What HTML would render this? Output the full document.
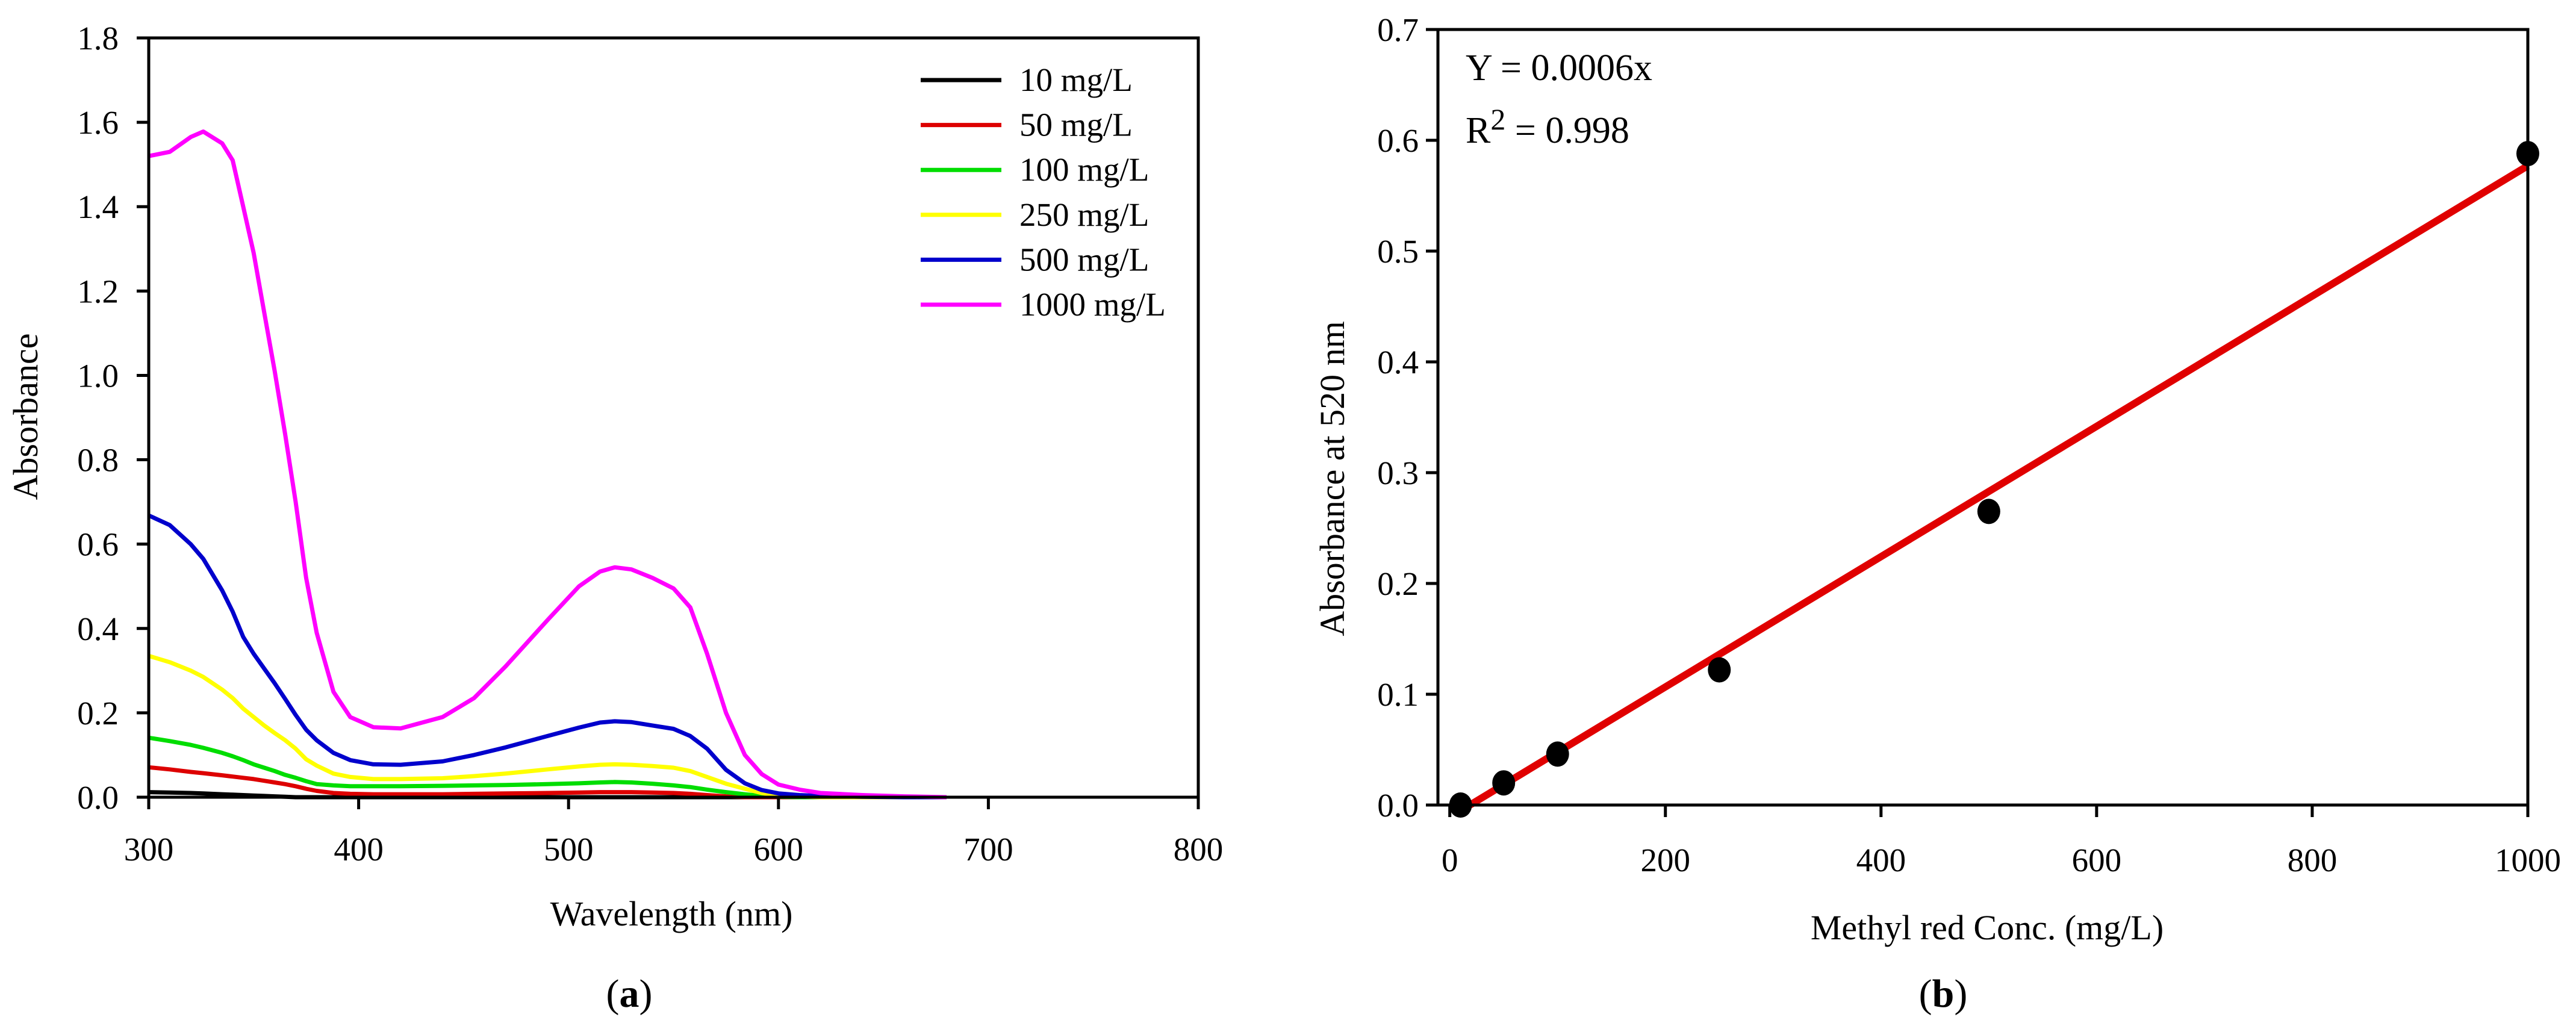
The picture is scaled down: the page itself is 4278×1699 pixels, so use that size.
<!DOCTYPE html>
<html><head><meta charset="utf-8"><style>
html,body{margin:0;padding:0;background:#fff;}
svg{display:block;}
svg, svg text{font-family:"Liberation Serif","DejaVu Serif",serif;}
</style></head><body>
<svg id="fig" width="4278" height="1699" viewBox="0 0 4278 1699" xmlns="http://www.w3.org/2000/svg">
<rect width="4278" height="1699" fill="#fff"/>
<g id="pa"></g>
<g id="pb"></g>
<text x="1115" y="1537" font-size="58" text-anchor="middle">Wavelength (nm)</text>
<text transform="translate(62,692) rotate(-90)" font-size="58" text-anchor="middle">Absorbance</text>
<text x="1045" y="1672" font-size="66" text-anchor="middle">(<tspan font-weight="bold">a</tspan>)</text>
<text x="3300" y="1560" font-size="58" text-anchor="middle">Methyl red Conc. (mg/L)</text>
<text transform="translate(2232,795) rotate(-90)" font-size="58" text-anchor="middle">Absorbance at 520 nm</text>
<text x="3227" y="1672" font-size="66" text-anchor="middle">(<tspan font-weight="bold">b</tspan>)</text>
<text x="2434" y="133" font-size="62">Y = 0.0006x</text>
<text x="2434" y="237" font-size="62">R<tspan dy="-22" font-size="50">2</tspan><tspan dy="22"> = 0.998</tspan></text>
</svg>
<script>
// ---- Chart (a) data ----
const wavelengths=[300,310,320,326,335,340,345,350,355,360,365,370,375,380,388,396,407,420,440,455,470,490,505,515,522,530,540,550,558,566,575,584,592,600,610,620,640,660,680];
const abs1000=[1.52,1.53,1.565,1.578,1.55,1.51,1.40,1.29,1.15,1.01,0.86,0.70,0.52,0.39,0.25,0.19,0.166,0.163,0.19,0.235,0.31,0.42,0.50,0.535,0.545,0.54,0.52,0.495,0.45,0.34,0.2,0.1,0.055,0.03,0.018,0.01,0.005,0.002,0];
const abs500=[.668,.645,.6,.565,.49,.44,.38,.34,.305,.27,.233,.195,.16,.135,.105,.088,.078,.077,.085,.1,.118,.145,.165,.177,.18,.178,.17,.162,.145,.115,.065,.033,.017,.009,.005,.003,.001,0,0];
const abs250=[.335,.32,.30,.285,.255,.235,.21,.19,.17,.152,.135,.115,.09,.075,.056,.048,.043,.043,.045,.05,.056,.066,.073,.077,.078,.077,.074,.07,.062,.048,.032,.02,.01,.004,.002,0,0,0,0];
const abs100=[.141,.133,.124,.117,.105,.097,.088,.078,.07,.062,.053,.046,.038,.031,.028,.026,.026,.026,.027,.028,.029,.031,.033,.035,.036,.035,.032,.028,.024,.018,.012,.007,.003,.001,0,0,0,0,0];
const abs50=[.071,.066,.06,.057,.052,.049,.046,.043,.039,.035,.031,.026,.02,.015,.01,.008,.007,.007,.007,.008,.009,.01,.011,.012,.012,.012,.011,.01,.008,.005,.002,0,0,0,0,0,0,0,0];
const abs10=[.012,.011,.01,.009,.007,.006,.005,.004,.003,.002,.001,0,0,0,0,0,0,0,0,0,0,0,0,0,0,0,0,0,0,0,0,0,0,0,0,0,0,0,0];
const seriesLabels=["10 mg/L","50 mg/L","100 mg/L","250 mg/L","500 mg/L","1000 mg/L"];
const xTicksA=[300,400,500,600,700,800];
const yTicksA=[0,0.2,0.4,0.6,0.8,1.0,1.2,1.4,1.6,1.8];
// ---- Chart (b) data ----
const concs=[10,50,100,250,500,1000];
const absorb520=[0.0,0.02,0.046,0.122,0.265,0.588];
const fitSlope=0.000588, fitIntercept=-0.011;
const xTicksB=[0,200,400,600,800,1000];
const yTicksB=[0,0.1,0.2,0.3,0.4,0.5,0.6,0.7];

const NS="http://www.w3.org/2000/svg";
function mk(parent,tag,attrs,text){const e=document.createElementNS(NS,tag);for(const k in attrs)e.setAttribute(k,attrs[k]);if(text!==undefined)e.textContent=text;parent.appendChild(e);return e;}

// Chart A
const pa=document.getElementById('pa');
const AX0=247,AX1=1990,AY0=1324,AY1=63;
const xa=v=>AX0+(v-300)/(800-300)*(AX1-AX0);
const ya=v=>AY0-(v-0)/1.8*(AY0-AY1);
const colors=["#000000","#dd0000","#00dd00","#ffff00","#0000cc","#ff00ff"];
const dataA=[abs10,abs50,abs100,abs250,abs500,abs1000];
const names=["series-10","series-50","series-100","series-250","series-500","series-1000"];
dataA.forEach((arr,i)=>{
  const d=arr.map((v,j)=>(j?'L':'M')+xa(wavelengths[j]).toFixed(1)+' '+ya(v).toFixed(1)).join(' ');
  const p=mk(pa,'path',{d:d,fill:'none',stroke:colors[i],'stroke-width':7,'stroke-linejoin':'round'});
  
  
});
const frA=mk(pa,'rect',{x:AX0,y:AY1,width:AX1-AX0,height:AY0-AY1,fill:'none',stroke:'#000','stroke-width':5});


xTicksA.forEach(t=>{
  const l=mk(pa,'line',{x1:xa(t),x2:xa(t),y1:AY0,y2:AY0+20,stroke:'#000','stroke-width':5});
  
  
  const tx=mk(pa,'text',{x:xa(t),y:AY0+105,'font-size':55,'text-anchor':'middle'},String(t));
  
  
});
yTicksA.forEach(t=>{
  const l=mk(pa,'line',{x1:AX0-20,x2:AX0,y1:ya(t),y2:ya(t),stroke:'#000','stroke-width':5});
  
  
  const tx=mk(pa,'text',{x:AX0-50,y:ya(t)+19,'font-size':55,'text-anchor':'end'},t.toFixed(1));
  
  
});
seriesLabels.forEach((s,i)=>{
  const y=133+i*74.6;
  const l=mk(pa,'line',{x1:1529,x2:1663,y1:y,y2:y,stroke:colors[i],'stroke-width':7});
  
  
  const tx=mk(pa,'text',{x:1693,y:y+18,'font-size':55},s);
  
  
});

// Chart B
const pb=document.getElementById('pb');
const BX0=2388,BX1=4198,BY0=1337,BY1=49;
const xmin=-11;
const xb=v=>BX0+(v-xmin)/(1000-xmin)*(BX1-BX0);
const yb=v=>BY0-v/0.7*(BY0-BY1);
const fitStart=-fitIntercept/fitSlope;
const fit=mk(pb,'line',{x1:xb(fitStart),y1:yb(0),x2:xb(1000),y2:yb(fitSlope*1000+fitIntercept),stroke:'#e00000','stroke-width':12});


concs.forEach((c,i)=>{
  const d=mk(pb,'ellipse',{cx:xb(c),cy:yb(absorb520[i]),rx:19,ry:21,fill:'#000'});
  
  
});
const frB=mk(pb,'rect',{x:BX0,y:BY1,width:BX1-BX0,height:BY0-BY1,fill:'none',stroke:'#000','stroke-width':5});


xTicksB.forEach(t=>{
  const l=mk(pb,'line',{x1:xb(t),x2:xb(t),y1:BY0,y2:BY0+20,stroke:'#000','stroke-width':5});
  
  
  const tx=mk(pb,'text',{x:xb(t),y:BY0+110,'font-size':55,'text-anchor':'middle'},String(t));
  
  
});
yTicksB.forEach(t=>{
  const l=mk(pb,'line',{x1:BX0-20,x2:BX0,y1:yb(t),y2:yb(t),stroke:'#000','stroke-width':5});
  
  
  const tx=mk(pb,'text',{x:BX0-32,y:yb(t)+19,'font-size':55,'text-anchor':'end'},t.toFixed(1));
  
  
});
</script>
</body></html>
